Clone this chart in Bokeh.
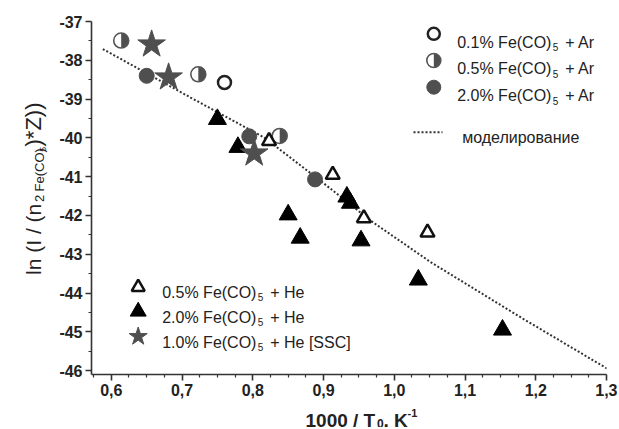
import math
from bokeh.plotting import figure
from bokeh.layouts import row, column
from bokeh.models import Range1d, FixedTicker, CustomJSTickFormatter, Label
from bokeh.embed import file_html
from bokeh.resources import INLINE

# ---------------- data ----------------
ar01_x = [0.760]
ar01_y = [-38.57]
ar05_x = [0.614, 0.723, 0.838]
ar05_y = [-37.49, -38.36, -39.95]
ar20_x = [0.650, 0.795, 0.888]
ar20_y = [-38.40, -39.96, -41.07]
he05_x = [0.823, 0.913, 0.957, 1.047]
he05_y = [-40.08, -40.95, -42.07, -42.44]
he20_x = [0.750, 0.779, 0.850, 0.867, 0.933, 0.938, 0.953, 1.034, 1.153]
he20_y = [-39.52, -40.24, -41.98, -42.58, -41.52, -41.68, -42.65, -43.66, -44.95]
ssc_x = [0.657, 0.681, 0.802]
ssc_y = [-37.59, -38.44, -40.40]
model_x = [0.588, 0.712, 0.816, 0.896, 0.967, 1.052, 1.179, 1.302]
model_y = [-37.71, -38.96, -39.99, -41.11, -42.14, -43.21, -44.63, -45.96]

x_ticks = [0.6, 0.7, 0.8, 0.9, 1.0, 1.1, 1.2, 1.3]
x_minor = [0.575, 0.625, 0.65, 0.675, 0.725, 0.75, 0.775, 0.825, 0.85, 0.875,
           0.925, 0.95, 0.975, 1.025, 1.05, 1.075, 1.125, 1.15, 1.175, 1.225, 1.25, 1.275]
y_ticks = [-46, -45, -44, -43, -42, -41, -40, -39, -38, -37]
y_minor = [-45.5, -44.5, -43.5, -42.5, -41.5, -40.5, -39.5, -38.5, -37.5]

X0, X1 = 0.572, 1.3
Y0, Y1 = -46.1, -37.0

GRAY = "#4f4f4f"
DARK = "#222222"
FONT = "Liberation Sans"

W_TOTAL, H_TOTAL = 617, 427
W_YL = 56
H_ROW = 401

# ---------------- main plot ----------------
p = figure(width=W_TOTAL - W_YL, height=H_ROW, output_backend="svg", toolbar_location=None,
           title=None, x_range=Range1d(X0, X1), y_range=Range1d(Y0, Y1),
           min_border_left=35, min_border_right=11, min_border_top=21,
           min_border_bottom=H_ROW - 374)
p.outline_line_color = None
p.grid.visible = False
p.background_fill_color = "white"
p.border_fill_color = "white"

p.xaxis.ticker = FixedTicker(ticks=x_ticks, minor_ticks=x_minor)
p.yaxis.ticker = FixedTicker(ticks=y_ticks, minor_ticks=y_minor)
p.xaxis.formatter = CustomJSTickFormatter(code="return tick.toFixed(1).replace('.', ',');")
p.yaxis.formatter = CustomJSTickFormatter(code="return tick.toFixed(0);")
for ax in (p.xaxis[0], p.yaxis[0]):
    ax.axis_line_color = "#333333"
    ax.axis_line_width = 1.6
    ax.major_tick_line_color = "#333333"
    ax.major_tick_line_width = 1.6
    ax.minor_tick_line_color = "#333333"
    ax.minor_tick_line_width = 1.2
    ax.major_tick_out = 6
    ax.major_tick_in = 0
    ax.minor_tick_out = 3
    ax.minor_tick_in = 0
    ax.major_label_standoff = 3
    ax.major_label_text_font = FONT
    ax.major_label_text_font_style = "bold"
    ax.major_label_text_font_size = "16px"
    ax.major_label_text_color = DARK

# picture-pixel helpers for annotation placement inside the frame
FL, FR, FT, FB = 91.0, 606.0, 21.0, 374.0
def px(xp):
    return X0 + (xp - FL) * (X1 - X0) / (FR - FL)
def py(yp):
    return Y1 - (yp - FT) * (Y1 - Y0) / (FB - FT)

def txt(xp, yp, s, size, style="normal"):
    p.add_layout(Label(x=px(xp), y=py(yp), text=s, text_font=FONT,
                       text_font_size=f"{size}px", text_font_style=style,
                       text_align="left", text_baseline="alphabetic", text_color=DARK))

# model line
p.line(model_x, model_y, line_color="#333333", line_width=2, line_dash="2 2")

def half_circles(xs, ys, size):
    p.scatter(xs, ys, marker="circle", size=size, fill_color="white", line_color=None)
    p.wedge(xs, ys, radius=size / 2.0, radius_units="screen",
            start_angle=-math.pi / 2, end_angle=math.pi / 2,
            fill_color=GRAY, line_color=None)
    p.scatter(xs, ys, marker="circle", size=size, fill_color=None,
              line_color="#555555", line_width=1.6)

p.scatter(ar01_x, ar01_y, marker="circle", size=13, fill_color="white",
          line_color=DARK, line_width=2.5)
half_circles(ar05_x, ar05_y, 15)
p.scatter(ar20_x, ar20_y, marker="circle", size=15, fill_color=GRAY, line_color=GRAY)
p.scatter(he05_x, he05_y, marker="triangle", size=14, fill_color="white",
          line_color="#111111", line_width=2.5)
p.scatter(he20_x, he20_y, marker="triangle", size=18, fill_color="black", line_color="black")
p.scatter(ssc_x, ssc_y, marker="star", size=29, fill_color=GRAY, line_color=GRAY)

# legend (top right)
lx_m, lx_t = 433.3, 456.7
top_rows = [(33.3, 41.7, "0.1% Fe(CO)"), (60.0, 68.3, "0.5% Fe(CO)"), (86.7, 95.0, "2.0% Fe(CO)")]
p.scatter([px(lx_m)], [py(top_rows[0][0])], marker="circle", size=12, fill_color="white",
          line_color=DARK, line_width=2.5)
half_circles([px(lx_m)], [py(top_rows[1][0])], 14)
p.scatter([px(lx_m)], [py(top_rows[2][0])], marker="circle", size=14, fill_color=GRAY, line_color=GRAY)
for my, base, s in top_rows:
    txt(lx_t, base, s, 16)
    txt(lx_t + 95.5, base + 5, "5", 10)
    txt(lx_t + 108, base, "+ Ar", 16)

p.line([px(413), px(442)], [py(131.7), py(131.7)], line_color="#333333", line_width=2,
       line_dash="2 2")
txt(461.7, 136.7, "моделирование", 16)

# legend (bottom left)
bx_m, bx_t = 137.7, 161.7
bot_rows = [(285.7, 291.7, "0.5% Fe(CO)", "+ He"), (310.0, 316.7, "2.0% Fe(CO)", "+ He"),
            (335.0, 341.7, "1.0% Fe(CO)", "+ He [SSC]")]
p.scatter([px(bx_m)], [py(bot_rows[0][0] + 1)], marker="triangle", size=13, fill_color="white",
          line_color="#111111", line_width=2.5)
p.scatter([px(bx_m)], [py(bot_rows[1][0] + 1)], marker="triangle", size=16, fill_color="black",
          line_color="black")
p.scatter([px(bx_m)], [py(bot_rows[2][0] + 1)], marker="star", size=19, fill_color=GRAY,
          line_color=GRAY)
for my, base, s, tail in bot_rows:
    txt(bx_t, base, s, 16)
    txt(bx_t + 95.5, base + 5, "5", 10)
    txt(bx_t + 108, base, tail, 16)

# ---------------- title panels (ranges in picture pixels) ----------------
def blank(w, h):
    f = figure(width=w, height=h, output_backend="svg", toolbar_location=None, title=None,
               x_range=Range1d(0, w), y_range=Range1d(0, h),
               x_axis_type=None, y_axis_type=None,
               min_border_left=0, min_border_right=0, min_border_top=0, min_border_bottom=0)
    f.outline_line_color = None
    f.background_fill_color = "white"
    f.border_fill_color = "white"
    return f

def ftxt(f, top, xp, yp, s, size, style="normal", angle=0.0, align="left"):
    # xp, yp: picture pixels; top: picture y of the panel's top edge
    h = f.height
    f.add_layout(Label(x=xp, y=h - (yp - top), text=s, text_font=FONT,
                       text_font_size=f"{size}px", text_font_style=style, angle=angle,
                       text_align=align, text_baseline="alphabetic", text_color=DARK))

yl = blank(W_YL, H_ROW)
ANG = math.pi / 2
ftxt(yl, 0, 33, 207, "ln (I / (n", 21, angle=ANG, align="right")
ftxt(yl, 0, 38.5, 205, "2", 13, angle=ANG)
ftxt(yl, 0, 38.5, 193, "Fe(CO)", 13, angle=ANG)
ftxt(yl, 0, 42, 148, "5", 9, angle=ANG)
ftxt(yl, 0, 33, 142, ")*Z))", 22, angle=ANG)

xl = blank(W_TOTAL, H_TOTAL - H_ROW)
ftxt(xl, H_ROW, 305, 420, "1000 / T", 19, style="bold")
ftxt(xl, H_ROW, 376.5, 422.5, "0", 12, style="bold")
ftxt(xl, H_ROW, 383, 420, ", K", 19, style="bold")
ftxt(xl, H_ROW, 407, 412, "-1", 11, style="bold")

layout = column(row(yl, p, spacing=0), xl, spacing=0)
open("out.html", "w").write(file_html(layout, INLINE))
